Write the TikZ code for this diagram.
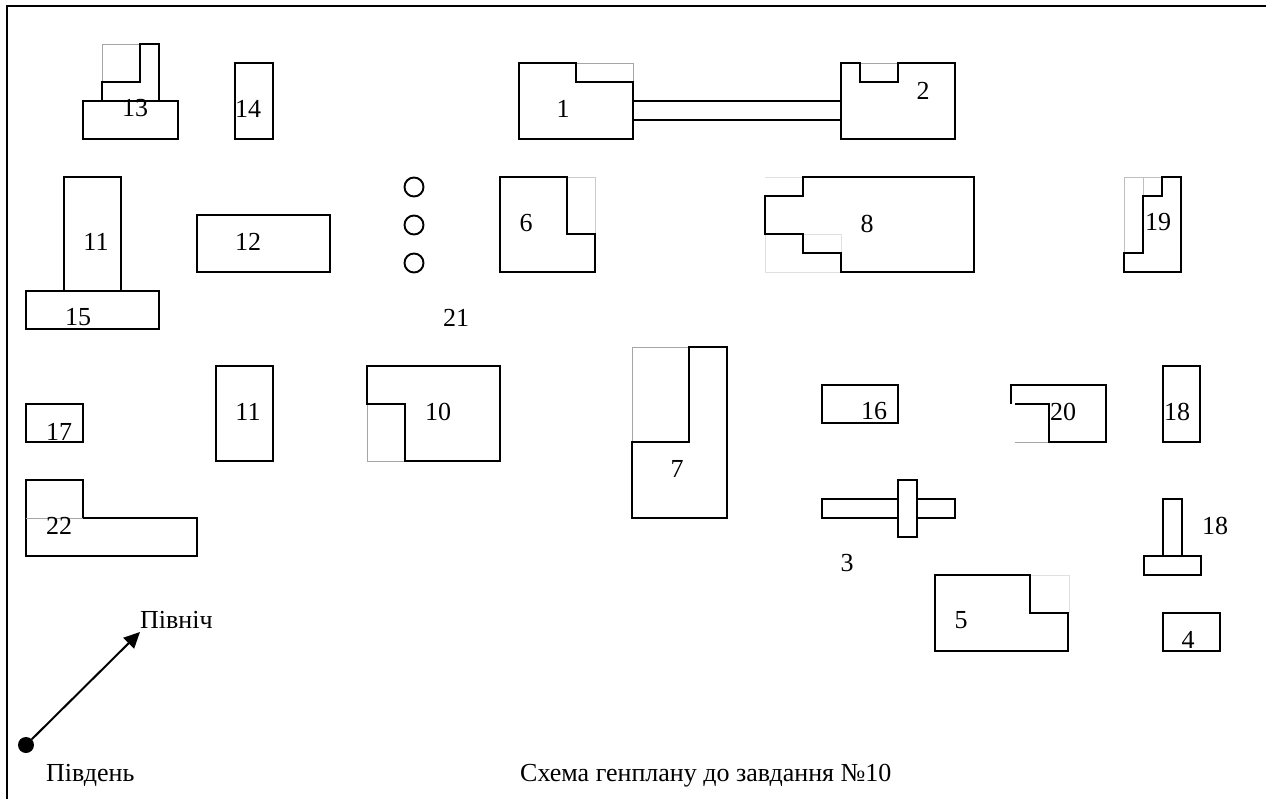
\documentclass[tikz,border=0pt]{standalone}
\usepackage{fontspec}
\setmainfont{Liberation Serif}
\usetikzlibrary{arrows.meta}
\tikzset{
  wall/.style={draw=black,line width=1.9pt,line join=miter,fill=white},
  ghost/.style={draw=black!35,line width=0.9pt},
  faint/.style={draw=black!12,line width=0.9pt},
  lab/.style={inner sep=0pt,font=\fontsize{26}{30}\selectfont,text=black},
  well/.style={circle,draw=black,line width=1.9pt,minimum size=19pt,inner sep=0pt},
  txt/.style={inner sep=0pt,anchor=base west,font=\fontsize{26}{30}\selectfont,text=black}
}
\begin{document}
\begin{tikzpicture}[x=1pt,y=-1pt]
\useasboundingbox (0,0) rectangle (1266,799);
\fill[white] (0,0) rectangle (1266,799);
% frame
\draw[line width=2pt] (7,799) -- (7,6) -- (1266,6);
% 13
\draw[ghost] (102,82) -- (102,44) -- (140,44);
\draw[wall] (102,101) -- (102,82) -- (140,82) -- (140,44) -- (159,44) -- (159,101);
\draw[wall] (83,101) rectangle (178,139);
% 14
\draw[wall] (235,63) rectangle (273,139);
% 11 top, 15
\draw[wall] (64,177) rectangle (121,291);
\draw[wall] (26,291) rectangle (159,329);
% 12
\draw[wall] (197,215) rectangle (330,272);
% wells
\node[well] (w1) at (414,187) {};
\node[well] (w2) at (414,225) {};
\node[well] (w3) at (414,263) {};
% 1 and 2
\draw[ghost] (576,63) -- (633,63) -- (633,82);
\draw[wall] (519,63) -- (576,63) -- (576,82) -- (633,82) -- (633,139) -- (519,139) -- cycle;
\draw[ghost] (860,63) -- (898,63);
\draw[wall] (860,63) -- (841,63) -- (841,139) -- (955,139) -- (955,63) -- (898,63) -- (898,82) -- (860,82) -- cycle;
\draw[wall] (633,101) -- (841,101);
\draw[wall] (633,120) -- (841,120);
% 6
\draw[ghost,draw=black!20] (567,177) -- (595,177) -- (595,234);
\draw[wall] (500,177) -- (567,177) -- (567,234) -- (595,234) -- (595,272) -- (500,272) -- cycle;
% 8
\draw[faint] (765,177) -- (803,177);
\draw[faint] (765,234) -- (765,272) -- (841,272);
\draw[faint] (803,234) -- (841,234) -- (841,253);
\draw[wall,fill=none] (803,177) -- (974,177) -- (974,272) -- (841,272) -- (841,253) -- (803,253) -- (803,234) -- (765,234) -- (765,196) -- (803,196) -- cycle;
% 19
\draw[ghost,draw=black!25] (1124,253) -- (1124,177) -- (1162,177);
\draw[ghost,draw=black!25] (1143,177) -- (1143,196);
\draw[wall] (1162,177) -- (1181,177) -- (1181,272) -- (1124,272) -- (1124,253) -- (1143,253) -- (1143,196) -- (1162,196) -- cycle;
% 20
\draw[ghost] (1015,442) -- (1049,442);
\draw[wall,fill=none] (1015,404) -- (1049,404) -- (1049,442) -- (1106,442) -- (1106,385) -- (1011,385) -- (1011,404);
% 18 top
\draw[wall] (1163,366) rectangle (1200,442);
% 16
\draw[wall] (822,385) rectangle (898,423);
% 10
\draw[ghost] (367,404) -- (367,461) -- (405,461);
\draw[wall,fill=none] (367,366) -- (500,366) -- (500,461) -- (405,461) -- (405,404) -- (367,404) -- cycle;
% 11 low
\draw[wall] (216,366) rectangle (273,461);
% 17
\draw[wall] (26,404) rectangle (83,442);
% 22
\draw[wall] (26,480) -- (83,480) -- (83,518) -- (197,518) -- (197,556) -- (26,556) -- cycle;
\draw[ghost] (26,518) -- (83,518);
% 7
\draw[ghost] (632,442) -- (632,347) -- (689,347);
\draw[wall,fill=none] (689,347) -- (727,347) -- (727,518) -- (632,518) -- (632,442) -- (689,442) -- cycle;
% 3
\draw[wall] (822,499) rectangle (955,518);
\draw[wall] (898,480) rectangle (917,537);
% 5
\draw[faint] (1030,575) -- (1069,575) -- (1069,613);
\draw[wall,fill=none] (935,575) -- (1030,575) -- (1030,613) -- (1068,613) -- (1068,651) -- (935,651) -- cycle;
% 18 low
\draw[wall] (1163,499) rectangle (1182,556);
\draw[wall] (1144,556) rectangle (1201,575);
% 4
\draw[wall] (1163,613) rectangle (1220,651);
% compass
\node[circle,fill=black,minimum size=16pt,inner sep=0pt] (south) at (26,745) {};
\coordinate (north) at (140,632);
\draw[line width=2pt,-{Triangle[length=16pt,width=15pt]}] (south) -- (north);
% labels
\node[lab] (l1) at (563,108.5) {1};
\node[lab] (l2) at (923,90.5) {2};
\node[lab] (l3) at (847,563.5) {3};
\node[lab] (l4) at (1188,639.5) {4};
\node[lab] (l5) at (961,620.5) {5};
\node[lab] (l6) at (526,223.5) {6};
\node[lab] (l7) at (677,468.5) {7};
\node[lab] (l8) at (867,223.5) {8};
\node[lab] (l10) at (438,411.5) {10};
\node[lab] (l11a) at (96,241.5) {11};
\node[lab] (l11b) at (248,411.5) {11};
\node[lab] (l12) at (248,241.5) {12};
\node[lab] (l13) at (135,108.5) {13};
\node[lab] (l14) at (248,108.5) {14};
\node[lab] (l15) at (78,317.5) {15};
\node[lab] (l16) at (874,411.5) {16};
\node[lab] (l17) at (59,431.5) {17};
\node[lab] (l18a) at (1177,411.5) {18};
\node[lab] (l18b) at (1215,525.5) {18};
\node[lab] (l19) at (1158,222.5) {19};
\node[lab] (l20) at (1063,411.5) {20};
\node[lab] (l21) at (456,317.5) {21};
\node[lab] (l22) at (59,525.5) {22};
\node[txt] (tn) at (140,628) {Північ};
\node[txt] (ts) at (46,781) {Південь};
\node[txt] (tt) at (520,781) {Схема генплану до завдання №10};
\end{tikzpicture}
\end{document}
